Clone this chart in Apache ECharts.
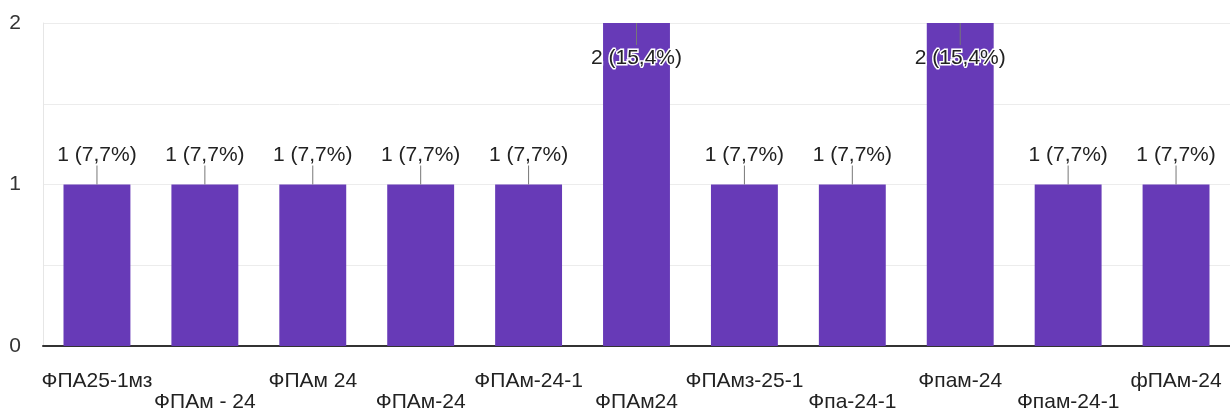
<!DOCTYPE html>
<html><head><meta charset="utf-8">
<script src="https://cdn.jsdelivr.net/npm/echarts@6/dist/echarts.min.js"></script>
<style>html,body{margin:0;padding:0;background:#fff}#c{width:1230px;height:413px}</style>
</head><body><div id="c"></div>
<script>
const categories = ['ФПА25-1мз','ФПАм - 24','ФПАм 24','ФПАм-24','ФПАм-24-1','ФПАм24','ФПАмз-25-1','Фпа-24-1','Фпам-24','Фпам-24-1','фПАм-24'];
const counts = [1,1,1,1,1,2,1,1,2,1,1];
const labels = ['1 (7,7%)','1 (7,7%)','1 (7,7%)','1 (7,7%)','1 (7,7%)','2 (15,4%)','1 (7,7%)','1 (7,7%)','2 (15,4%)','1 (7,7%)','1 (7,7%)'];
const yTicks = [0,1,2];

const FONT = 'Liberation Sans, Arial, sans-serif';
const chart = echarts.init(document.getElementById('c'));
chart.setOption({
  animation: false,
  grid: {left: 43, right: 0, top: 23, bottom: 65, containLabel: false},
  xAxis: {
    type: 'category', data: categories,
    axisLine: {show: true, lineStyle: {color: '#333', width: 2}},
    axisTick: {show: false},
    axisLabel: {
      interval: 0, color: '#222', fontSize: 21, fontFamily: FONT, lineHeight: 21, margin: 25,
      formatter: (v, i) => (i % 2 ? '\n' + v : v)
    }
  },
  yAxis: {
    type: 'value', min: 0, max: 2, interval: 0.5,
    axisLine: {show: true, lineStyle: {color: '#e6e6e6', width: 1}},
    axisTick: {show: false},
    splitLine: {lineStyle: {color: '#ececec', width: 1}},
    axisLabel: {
      color: '#333', fontSize: 21, fontFamily: FONT, margin: 22,
      formatter: v => (yTicks.indexOf(v) >= 0 ? String(v) : '')
    }
  },
  series: [
    {
      type: 'bar', data: counts, barWidth: '62%', z: 2,
      itemStyle: {color: '#673ab7'}, silent: true
    },
    {
      type: 'custom', z: 5,
      data: counts.map((v, i) => [i, v]),
      renderItem: (params, api) => {
        const i = api.value(0), v = api.value(1);
        const top = api.coord([i, v]);
        const inside = v >= 2;
        const lineEnd = inside ? top[1] + 22 : top[1] - 19;
        const textY = inside ? top[1] + 35 : top[1] - 29;
        return {
          type: 'group',
          children: [
            {type: 'line', z2: 1, shape: {x1: top[0], y1: top[1], x2: top[0], y2: lineEnd},
             style: {stroke: '#777', lineWidth: 1}},
            {type: 'text', z2: 2, x: top[0], y: textY,
             style: {text: labels[params.dataIndex], fill: '#222', fontSize: 21, fontFamily: FONT,
                     align: 'center', verticalAlign: 'middle',
                     stroke: inside ? '#fff' : null, lineWidth: inside ? 3 : 0}}
          ]
        };
      }
    }
  ]
});
</script></body></html>
